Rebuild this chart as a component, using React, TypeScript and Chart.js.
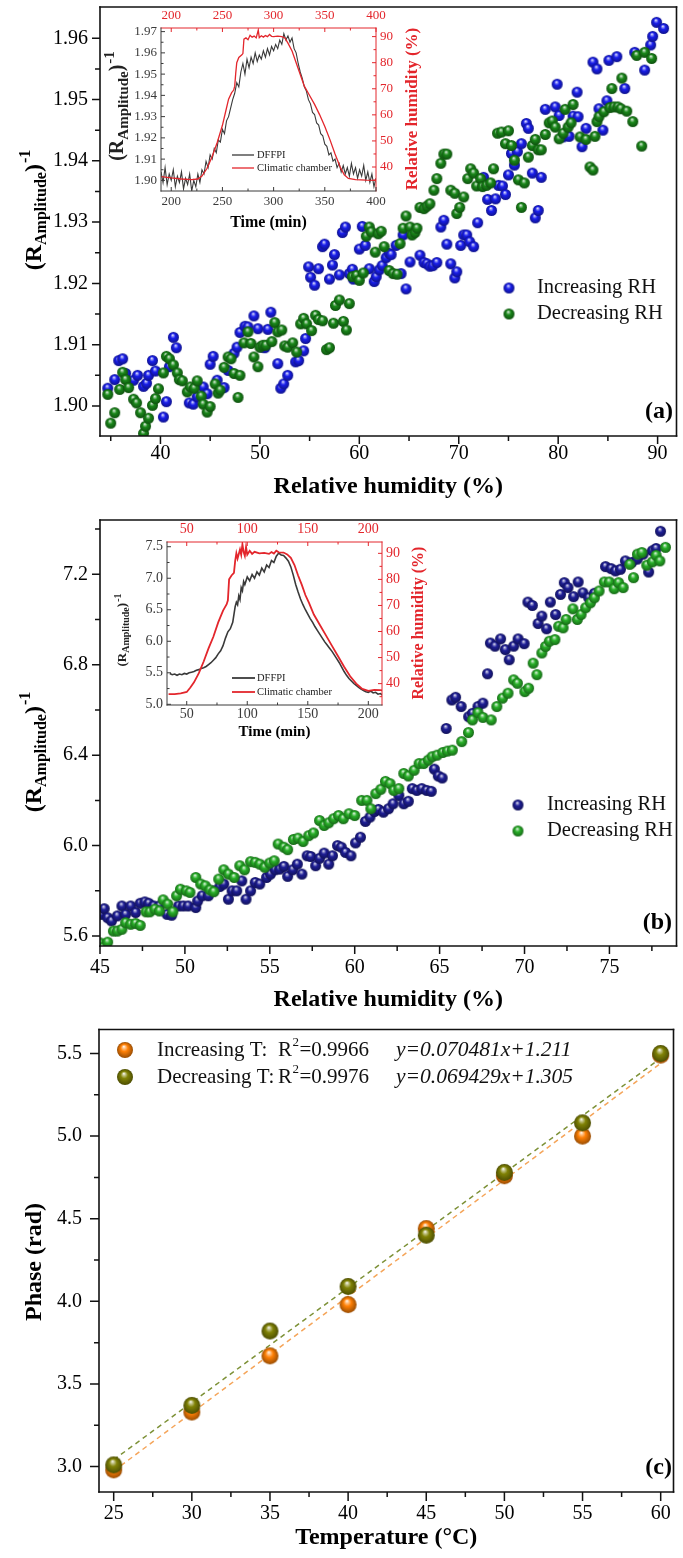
import React, { useEffect, useRef } from "react";
import { Chart, registerables } from "chart.js";

Chart.register(...registerables);

const FONT = "'Liberation Serif', 'Times New Roman', Times, serif";
const INK = "#111111";
const RED = "#e3262c";
const DARK = "#3a3a3a";

// ---------------- Panel (a) : main scatter ----------------
const A_INC_RH = [34.7, 35.4, 35.8, 36.2, 36.5, 37.3, 37.7, 38.3, 38.6, 38.8, 39.2, 39.5, 40.3, 40.6, 40.9, 41.3, 41.6, 42.9, 43.3, 43.7, 44.3, 44.7, 45.0, 45.3, 45.7, 46.4, 46.8, 47.4, 47.7, 48.0, 48.5, 48.8, 49.4, 49.8, 50.2, 50.5, 50.8, 51.1, 51.8, 52.1, 52.4, 52.8, 53.6, 53.9, 54.4, 54.6, 54.9, 55.1, 55.5, 55.9, 56.3, 56.5, 57.0, 57.3, 57.5, 58.0, 58.3, 58.6, 59.0, 59.3, 59.4, 60.0, 60.3, 60.6, 61.0, 61.5, 61.7, 62.0, 62.3, 62.7, 63.0, 63.2, 63.7, 64.2, 64.4, 64.7, 65.1, 66.1, 66.5, 66.8, 67.1, 67.4, 67.8, 68.2, 68.5, 68.8, 69.2, 69.6, 69.8, 70.2, 70.5, 70.8, 71.1, 71.5, 71.9, 72.5, 72.9, 73.3, 73.7, 74.0, 74.4, 74.7, 75.0, 75.3, 75.6, 75.9, 76.3, 76.8, 77.0, 77.4, 77.7, 78.0, 78.3, 78.7, 79.7, 80.1, 80.5, 81.1, 81.5, 82.0, 82.4, 82.8, 84.1, 84.5, 84.9, 79.9, 81.9, 83.5, 83.9, 85.1, 85.9, 86.7, 87.7, 88.7, 89.3, 89.9, 90.6, 89.5];
const A_INC_R = [1.9029, 1.9043, 1.9074, 1.9077, 1.9053, 1.9042, 1.9050, 1.9032, 1.9037, 1.9050, 1.9074, 1.9057, 1.8982, 1.9007, 1.9064, 1.9112, 1.9095, 1.9005, 1.9003, 1.9015, 1.9031, 1.9020, 1.9068, 1.9081, 1.9042, 1.9030, 1.9058, 1.9086, 1.9096, 1.9120, 1.9130, 1.9129, 1.9147, 1.9126, 1.9096, 1.9095, 1.9125, 1.9153, 1.9069, 1.9029, 1.9036, 1.9050, 1.9072, 1.9074, 1.9090, 1.9110, 1.9227, 1.9210, 1.9197, 1.9224, 1.9260, 1.9264, 1.9207, 1.9230, 1.9247, 1.9214, 1.9283, 1.9292, 1.9216, 1.9223, 1.9207, 1.9256, 1.9293, 1.9262, 1.9224, 1.9203, 1.9211, 1.9222, 1.9229, 1.9242, 1.9249, 1.9247, 1.9262, 1.9216, 1.9279, 1.9191, 1.9235, 1.9246, 1.9234, 1.9232, 1.9228, 1.9229, 1.9234, 1.9292, 1.9303, 1.9264, 1.9232, 1.9209, 1.9219, 1.9262, 1.9279, 1.9279, 1.9268, 1.9260, 1.9299, 1.9373, 1.9337, 1.9319, 1.9338, 1.9360, 1.9359, 1.9345, 1.9377, 1.9412, 1.9393, 1.9415, 1.9428, 1.9461, 1.9453, 1.9380, 1.9307, 1.9319, 1.9373, 1.9484, 1.9488, 1.9474, 1.9439, 1.9440, 1.9473, 1.9472, 1.9423, 1.9453, 1.9485, 1.9450, 1.9498, 1.9525, 1.9512, 1.9561, 1.9550, 1.9564, 1.9570, 1.9518, 1.9577, 1.9548, 1.9589, 1.9626, 1.9616, 1.9603];
const A_DEC_RH = [35.0, 35.4, 34.7, 35.9, 36.2, 36.5, 36.8, 37.3, 37.6, 38.0, 38.3, 38.5, 38.8, 39.2, 39.5, 39.8, 40.3, 40.6, 40.9, 41.3, 41.7, 41.9, 42.2, 42.7, 43.0, 43.4, 43.7, 44.1, 44.3, 44.7, 45.0, 45.5, 45.8, 46.0, 46.4, 46.8, 47.1, 47.4, 47.8, 48.0, 48.4, 48.8, 49.1, 49.4, 49.8, 50.0, 50.3, 50.6, 51.2, 51.5, 51.8, 52.2, 52.5, 52.8, 53.3, 53.7, 54.1, 54.4, 54.7, 55.2, 55.6, 55.9, 56.3, 56.7, 57.0, 57.4, 57.6, 58.0, 58.4, 58.7, 59.0, 59.3, 59.7, 60.0, 60.4, 60.7, 61.0, 61.2, 61.6, 61.9, 62.2, 62.5, 63.0, 63.4, 63.8, 64.1, 64.4, 64.7, 65.1, 65.3, 65.6, 65.8, 66.1, 66.5, 66.8, 67.1, 67.5, 67.8, 68.2, 68.5, 68.8, 69.2, 69.6, 69.8, 70.1, 70.5, 70.9, 71.2, 71.5, 71.8, 72.2, 72.4, 72.8, 73.2, 73.5, 73.9, 74.3, 74.7, 75.0, 75.3, 75.6, 76.0, 76.3, 76.6, 77.0, 77.4, 77.7, 78.0, 78.3, 78.7, 79.1, 79.4, 79.7, 80.1, 80.5, 81.0, 81.3, 80.7, 81.5, 82.2, 82.8, 83.2, 83.5, 83.7, 83.9, 84.1, 84.6, 85.2, 85.6, 86.0, 86.3, 86.9, 87.5, 88.4, 87.9, 88.7, 89.4, 86.4, 85.4];
const A_DEC_R = [1.8972, 1.8989, 1.9019, 1.9027, 1.9055, 1.9043, 1.9030, 1.9011, 1.9005, 1.8989, 1.8955, 1.8967, 1.8980, 1.9001, 1.9012, 1.9028, 1.9054, 1.9081, 1.9077, 1.9067, 1.9054, 1.9043, 1.9041, 1.9023, 1.9031, 1.9029, 1.9041, 1.9016, 1.9003, 1.8990, 1.8999, 1.9036, 1.9021, 1.9026, 1.9063, 1.9080, 1.9077, 1.9053, 1.9014, 1.9050, 1.9103, 1.9121, 1.9102, 1.9080, 1.9064, 1.9096, 1.9099, 1.9099, 1.9105, 1.9136, 1.9121, 1.9124, 1.9098, 1.9096, 1.9103, 1.9088, 1.9134, 1.9143, 1.9134, 1.9123, 1.9148, 1.9141, 1.9139, 1.9092, 1.9095, 1.9135, 1.9164, 1.9173, 1.9138, 1.9124, 1.9167, 1.9211, 1.9213, 1.9205, 1.9217, 1.9277, 1.9292, 1.9284, 1.9251, 1.9281, 1.9285, 1.9260, 1.9221, 1.9216, 1.9215, 1.9265, 1.9290, 1.9310, 1.9292, 1.9279, 1.9283, 1.9290, 1.9324, 1.9322, 1.9326, 1.9330, 1.9352, 1.9371, 1.9396, 1.9411, 1.9411, 1.9352, 1.9347, 1.9314, 1.9324, 1.9341, 1.9371, 1.9387, 1.9380, 1.9359, 1.9371, 1.9358, 1.9360, 1.9364, 1.9387, 1.9445, 1.9447, 1.9428, 1.9449, 1.9425, 1.9401, 1.9369, 1.9324, 1.9364, 1.9406, 1.9425, 1.9435, 1.9418, 1.9418, 1.9443, 1.9462, 1.9465, 1.9455, 1.9436, 1.9445, 1.9455, 1.9462, 1.9484, 1.9492, 1.9439, 1.9435, 1.9390, 1.9385, 1.9440, 1.9464, 1.9472, 1.9480, 1.9487, 1.9488, 1.9488, 1.9485, 1.9481, 1.9464, 1.9424, 1.9572, 1.9577, 1.9567, 1.9535, 1.9518];
const A_X_TICKS = [40, 50, 60, 70, 80, 90];
const A_X_MINOR = [35, 45, 55, 65, 75, 85];
const A_Y_TICKS = [1.9, 1.91, 1.92, 1.93, 1.94, 1.95, 1.96];
const A_Y_MINOR = [1.905, 1.915, 1.925, 1.935, 1.945, 1.955];
const RH_LEGEND = ["Increasing RH", "Decreasing RH"];

// ---------------- Inset (a) ----------------
const IA_TIME = [190, 192, 194, 196, 198, 200, 202, 204, 206, 208, 210, 212, 214, 216, 218, 220, 222, 224, 226, 228, 230, 232, 234, 236, 238, 240, 242, 244, 246, 248, 250, 252, 254, 256, 258, 260, 262, 264, 266, 268, 270, 272, 274, 276, 278, 280, 282, 284, 286, 288, 290, 292, 294, 296, 298, 300, 302, 304, 306, 308, 310, 312, 314, 316, 318, 320, 322, 324, 326, 328, 330, 332, 334, 336, 338, 340, 342, 344, 346, 348, 350, 352, 354, 356, 358, 360, 362, 364, 366, 368, 370, 372, 374, 376, 378, 380, 382, 384, 386, 388, 390, 392, 394, 396, 398, 400];
const IA_DFFPI = [1.904, 1.899, 1.906, 1.898, 1.903, 1.900, 1.905, 1.897, 1.902, 1.899, 1.904, 1.896, 1.901, 1.898, 1.903, 1.895, 1.900, 1.897, 1.903, 1.899, 1.905, 1.903, 1.909, 1.906, 1.912, 1.910, 1.915, 1.913, 1.919, 1.918, 1.924, 1.922, 1.928, 1.930, 1.934, 1.938, 1.941, 1.946, 1.944, 1.951, 1.955, 1.950, 1.957, 1.953, 1.958, 1.955, 1.960, 1.956, 1.959, 1.957, 1.961, 1.958, 1.962, 1.959, 1.963, 1.961, 1.964, 1.962, 1.966, 1.964, 1.969, 1.966, 1.968, 1.965, 1.967, 1.962, 1.960, 1.955, 1.951, 1.948, 1.944, 1.942, 1.938, 1.936, 1.932, 1.931, 1.927, 1.926, 1.922, 1.921, 1.917, 1.916, 1.912, 1.913, 1.909, 1.910, 1.906, 1.908, 1.904, 1.907, 1.903, 1.906, 1.902, 1.908, 1.903, 1.906, 1.901, 1.905, 1.902, 1.907, 1.900, 1.904, 1.899, 1.903, 1.897, 1.901];
const IA_CH_T = [190, 200, 210, 220, 226, 230, 235, 240, 245, 250, 253, 256, 259, 261, 262, 263, 264, 266, 269, 270, 271, 273, 275, 277, 279, 281, 283, 285, 286, 288, 290, 292, 294, 296, 298, 300, 304, 308, 311, 314, 318, 322, 326, 330, 335, 340, 345, 350, 355, 360, 365, 369, 373, 380, 390, 400];
const IA_CH_RH = [36.3, 35.8, 35.4, 35.2, 35.4, 36.5, 39.5, 44, 49.5, 56, 61, 66, 68.5, 69.5, 71, 76, 80, 82, 83, 83.5, 89, 89.5, 88.8, 90.5, 89.8, 90.2, 89.5, 92.5, 89.6, 90.3, 89.8, 90.4, 90.0, 90.8, 90.1, 90.0, 90.2, 90.0, 89.5, 87.5, 84.5, 80, 75.5, 71, 67.5, 64, 60, 55.5, 50.5, 45, 40, 37, 35.6, 35.2, 35.0, 34.9];
const IA_X_TICKS = [200, 250, 300, 350, 400];
const IA_X_MINOR = [225, 275, 325, 375];
const IA_Y_TICKS = [1.9, 1.91, 1.92, 1.93, 1.94, 1.95, 1.96, 1.97];
const IA_Y_MINOR = [1.905, 1.915, 1.925, 1.935, 1.945, 1.955, 1.965];
const IA_Y2_TICKS = [40, 50, 60, 70, 80, 90];
const IA_Y2_MINOR = [35, 45, 55, 65, 75, 85];
const INSET_LEGEND = ["DFFPI", "Climatic chamber"];

// ---------------- Panel (b) : main scatter ----------------
const B_INC_RH = [45.07, 45.25, 45.45, 45.68, 46.02, 46.29, 46.51, 46.81, 47.10, 47.37, 47.64, 47.87, 48.16, 48.50, 48.95, 49.22, 49.63, 49.90, 50.19, 50.64, 50.75, 51.02, 51.38, 51.70, 52.06, 52.29, 52.56, 52.78, 53.05, 53.35, 53.60, 53.87, 54.14, 54.41, 54.81, 55.04, 55.31, 55.58, 55.83, 56.05, 56.35, 56.62, 56.89, 57.20, 57.41, 57.70, 57.93, 58.20, 58.47, 58.69, 58.99, 59.21, 59.46, 59.78, 60.05, 60.34, 60.63, 60.90, 61.17, 61.40, 61.69, 61.99, 62.26, 62.60, 62.89, 63.16, 63.39, 63.66, 63.95, 64.24, 64.51, 64.69, 64.92, 65.15, 65.39, 65.72, 65.94, 66.27, 66.71, 66.93, 67.26, 67.55, 67.82, 67.99, 68.26, 68.59, 68.87, 69.10, 69.36, 69.62, 69.98, 70.20, 70.46, 70.80, 71.02, 71.30, 71.52, 71.83, 72.12, 72.34, 72.56, 72.89, 73.16, 73.44, 73.78, 74.11, 74.77, 75.10, 75.36, 75.65, 75.94, 76.31, 76.64, 76.98, 77.31, 77.53, 77.75, 78.01];
const B_INC_V = [5.696, 5.721, 5.681, 5.667, 5.689, 5.733, 5.696, 5.733, 5.704, 5.745, 5.751, 5.745, 5.733, 5.733, 5.696, 5.692, 5.733, 5.733, 5.733, 5.726, 5.755, 5.778, 5.778, 5.800, 5.819, 5.830, 5.763, 5.800, 5.800, 5.844, 5.763, 5.800, 5.837, 5.830, 5.859, 5.874, 5.893, 5.896, 5.908, 5.864, 5.893, 5.918, 5.874, 5.955, 5.952, 5.911, 5.944, 5.967, 5.918, 5.955, 6.000, 5.993, 5.970, 5.955, 6.012, 6.037, 6.107, 6.126, 6.151, 6.160, 6.148, 6.163, 6.185, 6.222, 6.185, 6.196, 6.252, 6.244, 6.252, 6.244, 6.240, 6.338, 6.308, 6.299, 6.518, 6.644, 6.656, 6.615, 6.570, 6.585, 6.615, 6.630, 6.760, 6.896, 6.882, 6.914, 6.867, 6.822, 6.882, 6.914, 6.893, 7.077, 7.062, 6.982, 7.015, 6.959, 7.077, 7.022, 7.111, 7.163, 7.141, 7.101, 7.166, 7.118, 7.096, 7.116, 7.234, 7.225, 7.215, 7.222, 7.259, 7.252, 7.267, 7.289, 7.210, 7.304, 7.314, 7.390];
const B_DEC_RH = [45.0, 45.16, 45.45, 45.79, 46.02, 46.29, 46.51, 46.81, 47.10, 47.37, 47.71, 47.93, 48.23, 48.50, 48.72, 48.99, 49.29, 49.51, 49.74, 50.08, 50.30, 50.64, 50.93, 51.20, 51.47, 51.70, 51.99, 52.29, 52.56, 52.90, 53.23, 53.51, 53.87, 54.14, 54.41, 54.70, 54.99, 55.26, 55.49, 55.83, 56.05, 56.39, 56.66, 56.96, 57.29, 57.57, 57.93, 58.20, 58.47, 58.76, 59.05, 59.33, 59.66, 60.00, 60.41, 60.72, 60.95, 61.24, 61.54, 61.81, 62.08, 62.30, 62.60, 62.89, 63.16, 63.50, 63.79, 64.06, 64.33, 64.56, 64.85, 65.19, 65.46, 65.75, 66.3, 66.7, 66.93, 67.26, 67.55, 68.04, 68.37, 68.70, 69.03, 69.36, 69.58, 70.02, 70.24, 70.51, 70.73, 71.02, 71.24, 71.46, 71.79, 72.01, 72.27, 72.45, 72.85, 73.11, 73.33, 73.60, 73.88, 74.11, 74.39, 74.70, 74.99, 75.28, 75.54, 75.81, 76.20, 76.42, 76.65, 76.91, 77.20, 77.53, 77.75, 77.97, 78.30];
const B_DEC_V = [5.570, 5.548, 5.573, 5.622, 5.622, 5.630, 5.659, 5.652, 5.656, 5.647, 5.707, 5.707, 5.719, 5.711, 5.760, 5.741, 5.707, 5.778, 5.807, 5.800, 5.793, 5.859, 5.830, 5.822, 5.804, 5.796, 5.852, 5.893, 5.874, 5.859, 5.911, 5.893, 5.929, 5.926, 5.918, 5.904, 5.923, 5.933, 6.007, 5.993, 5.982, 6.027, 6.033, 6.018, 6.044, 6.056, 6.111, 6.089, 6.101, 6.119, 6.133, 6.119, 6.141, 6.133, 6.200, 6.200, 6.163, 6.230, 6.249, 6.284, 6.274, 6.244, 6.252, 6.319, 6.308, 6.333, 6.363, 6.363, 6.378, 6.393, 6.400, 6.412, 6.418, 6.422, 6.46, 6.50, 6.556, 6.588, 6.567, 6.556, 6.615, 6.652, 6.674, 6.733, 6.718, 6.681, 6.696, 6.807, 6.756, 6.852, 6.881, 6.904, 6.911, 6.970, 6.963, 7.000, 7.047, 7.000, 7.022, 7.052, 7.074, 7.096, 7.126, 7.166, 7.166, 7.136, 7.163, 7.141, 7.244, 7.185, 7.289, 7.296, 7.240, 7.255, 7.284, 7.259, 7.319];
const B_X_TICKS = [45, 50, 55, 60, 65, 70, 75];
const B_X_MINOR = [47.5, 52.5, 57.5, 62.5, 67.5, 72.5, 77.5];
const B_Y_TICKS = [5.6, 6.0, 6.4, 6.8, 7.2];
const B_Y_MINOR = [5.8, 6.2, 6.6, 7.0, 7.4];

// ---------------- Inset (b) ----------------
const IB_TIME = [36, 38, 40, 42, 44, 46, 48, 50, 52, 54, 56, 58, 60, 62, 64, 66, 68, 70, 72, 74, 76, 78, 80, 82, 84, 86, 88, 90, 91, 92, 93, 94, 95, 96, 97, 98, 100, 102, 104, 106, 108, 110, 112, 114, 116, 118, 120, 122, 124, 126, 128, 130, 132, 134, 136, 138, 140, 142, 144, 146, 148, 150, 152, 154, 156, 158, 160, 162, 164, 166, 168, 170, 172, 174, 176, 178, 180, 182, 184, 186, 188, 190, 192, 194, 196, 198, 200, 202, 204, 206, 208, 210, 212];
const IB_DFFPI = [5.49, 5.47, 5.48, 5.46, 5.48, 5.47, 5.49, 5.48, 5.50, 5.51, 5.52, 5.54, 5.55, 5.57, 5.58, 5.60, 5.63, 5.66, 5.70, 5.74, 5.80, 5.85, 5.93, 6.05, 6.15, 6.20, 6.30, 6.55, 6.62, 6.58, 6.72, 6.66, 6.85, 6.80, 6.95, 6.90, 7.02, 6.96, 7.06, 7.00, 7.10, 7.05, 7.16, 7.10, 7.21, 7.17, 7.28, 7.25, 7.35, 7.40, 7.37, 7.36, 7.32, 7.27, 7.18, 7.05, 6.90, 6.78, 6.67, 6.58, 6.50, 6.43, 6.36, 6.30, 6.23, 6.17, 6.11, 6.05, 5.99, 5.94, 5.89, 5.84, 5.78, 5.72, 5.66, 5.59, 5.52, 5.46, 5.41, 5.37, 5.33, 5.30, 5.27, 5.24, 5.22, 5.20, 5.19, 5.21, 5.18, 5.19, 5.16, 5.17, 5.14];
const IB_CH_T = [35, 40, 45, 50, 53, 56, 60, 64, 68, 72, 76, 80, 83, 84, 85, 87, 89, 90, 91, 92, 94, 95, 96, 97, 98, 99, 100, 102, 104, 106, 110, 114, 118, 120, 122, 124, 126, 130, 133, 136, 139, 142, 145, 148, 151, 155, 160, 165, 170, 175, 180, 185, 190, 195, 200, 205, 210, 212];
const IB_CH_RH = [36.0, 36.0, 36.3, 36.8, 38.5, 40.5, 44, 48.5, 53.5, 58, 63.5, 68, 70.5, 72, 80, 81.5, 82.5, 87, 90, 88, 91.5, 89.5, 93.5, 90.5, 89, 92.5, 89.5, 91, 89.8, 90.6, 90, 90.2, 89.8, 90.5, 89.9, 91, 90.4, 90.3, 89.6, 88.3, 85.5, 81.5, 78, 74, 71, 66.5, 62.5, 58.5, 54.5, 50.5, 46.5, 42.8, 40, 38, 37.2, 37.6, 37.5, 37.4];
const IB_X_TICKS = [50, 100, 150, 200];
const IB_X_MINOR = [75, 125, 175];
const IB_Y_TICKS = [5.0, 5.5, 6.0, 6.5, 7.0, 7.5];
const IB_Y_MINOR = [5.25, 5.75, 6.25, 6.75, 7.25];
const IB_Y2_TICKS = [40, 50, 60, 70, 80, 90];
const IB_Y2_MINOR = [35, 45, 55, 65, 75, 85];

// ---------------- Panel (c) ----------------
const C_TEMP = [25, 30, 35, 40, 45, 50, 55, 60];
const C_INC = [2.98, 3.33, 3.67, 3.98, 4.44, 4.76, 5.0, 5.49];
const C_DEC = [3.01, 3.37, 3.82, 4.09, 4.4, 4.78, 5.08, 5.5];
const C_FIT_X = [25, 60];
const C_FIT_INC = [2.973, 5.44];
const C_FIT_DEC = [3.041, 5.471];
const C_X_TICKS = [25, 30, 35, 40, 45, 50, 55, 60];
const C_X_MINOR = [27.5, 32.5, 37.5, 42.5, 47.5, 52.5, 57.5];
const C_Y_TICKS = [3.0, 3.5, 4.0, 4.5, 5.0, 5.5];
const C_Y_MINOR = [3.25, 3.75, 4.25, 4.75, 5.25];
const C_NAMES = ["Increasing T:", "Decreasing T:"];
const C_R2 = ["0.9966", "0.9976"];
const C_EQ = ["y=0.070481x+1.211", "y=0.069429x+1.305"];

// ---------------- helpers ----------------
function zip(xs: number[], ys: number[]) {
  const n = Math.min(xs.length, ys.length);
  const out: { x: number; y: number }[] = [];
  for (let i = 0; i < n; i++) out.push({ x: xs[i], y: ys[i] });
  return out;
}

function sphere(r: number, rgb: number[]) {
  const size = Math.ceil(2 * r + 2);
  const cv = document.createElement("canvas");
  cv.width = size;
  cv.height = size;
  const g = cv.getContext("2d") as CanvasRenderingContext2D;
  const c = size / 2;
  const [R, G, B] = rgb;
  const mix = (t: number, to: number) =>
    `rgb(${Math.round(R + (to - R) * t)},${Math.round(G + (to - G) * t)},${Math.round(B + (to - B) * t)})`;
  const grad = g.createRadialGradient(c - r * 0.15, c - r * 0.45, 0, c, c, r);
  grad.addColorStop(0, "rgb(255,255,255)");
  grad.addColorStop(0.2, mix(0.5, 255));
  grad.addColorStop(0.45, `rgb(${R},${G},${B})`);
  grad.addColorStop(1, mix(0.4, 0));
  g.fillStyle = grad;
  g.beginPath();
  g.arc(c, c, r, 0, Math.PI * 2);
  g.fill();
  return cv;
}

function axis(p: any) {
  const horizontal = p.position === "top" || p.position === "bottom";
  return {
    type: "linear",
    position: p.position,
    min: p.min,
    max: p.max,
    grid: { display: false, drawTicks: false },
    border: { display: false },
    ticks: {
      autoSkip: false,
      maxRotation: 0,
      minRotation: 0,
      padding: p.pad,
      color: p.color,
      font: { family: FONT, size: p.size },
      callback: (v: any) => p.fmt(Number(v)),
    },
    afterBuildTicks: (s: any) => {
      s.ticks = p.ticks.map((v: number) => ({ value: v }));
    },
    afterFit: (s: any) => {
      if (horizontal) s.height = p.fit;
      else s.width = p.fit;
      s.paddingLeft = 0;
      s.paddingRight = 0;
      s.paddingTop = 0;
      s.paddingBottom = 0;
    },
    title: p.title
      ? {
          display: true,
          text: p.title,
          color: p.titleColor || "#000",
          font: { family: FONT, size: p.titleSize, weight: "bold" },
          padding: { top: 0, bottom: p.titlePad },
        }
      : { display: false },
  };
}

function baseOptions(padding: any) {
  return {
    responsive: false,
    maintainAspectRatio: false,
    animation: false,
    devicePixelRatio: 1,
    events: [],
    layout: { padding },
    plugins: { legend: { display: false }, tooltip: { enabled: false } },
  };
}

function tickMarks(chart: any, id: string, values: number[], len: number, outward: boolean, color: string, lw: number) {
  const s = chart.scales[id];
  const a = chart.chartArea;
  const ctx = chart.ctx;
  const d = outward ? len : -len;
  ctx.save();
  ctx.strokeStyle = color;
  ctx.lineWidth = lw;
  ctx.beginPath();
  for (const v of values) {
    const p = s.getPixelForValue(v);
    if (s.position === "left") {
      ctx.moveTo(a.left, p);
      ctx.lineTo(a.left - d, p);
    } else if (s.position === "right") {
      ctx.moveTo(a.right, p);
      ctx.lineTo(a.right + d, p);
    } else if (s.position === "bottom") {
      ctx.moveTo(p, a.bottom);
      ctx.lineTo(p, a.bottom + d);
    } else {
      ctx.moveTo(p, a.top);
      ctx.lineTo(p, a.top - d);
    }
  }
  ctx.stroke();
  ctx.restore();
}

function frame(chart: any, lw: number, cl: string, cr: string, ct: string, cb: string) {
  const ctx = chart.ctx;
  const a = chart.chartArea;
  ctx.save();
  ctx.lineWidth = lw;
  ctx.lineCap = "square";
  const seg = (x1: number, y1: number, x2: number, y2: number, c: string) => {
    ctx.strokeStyle = c;
    ctx.beginPath();
    ctx.moveTo(x1, y1);
    ctx.lineTo(x2, y2);
    ctx.stroke();
  };
  seg(a.left, a.top, a.right, a.top, ct);
  seg(a.right, a.top, a.right, a.bottom, cr);
  seg(a.left, a.bottom, a.right, a.bottom, cb);
  seg(a.left, a.top, a.left, a.bottom, cl);
  ctx.restore();
}

function rTitle(ctx: any, x: number, y: number, big: number, small: number, color: string) {
  ctx.save();
  ctx.translate(x, y);
  ctx.rotate(-Math.PI / 2);
  ctx.fillStyle = color;
  ctx.textBaseline = "middle";
  ctx.textAlign = "left";
  const fb = `bold ${big}px ${FONT}`;
  const fs = `bold ${small}px ${FONT}`;
  ctx.font = fb;
  const w1 = ctx.measureText("(R").width;
  const w3 = ctx.measureText(")").width;
  ctx.font = fs;
  const w2 = ctx.measureText("Amplitude").width;
  const w4 = ctx.measureText("-1").width;
  let cx = -(w1 + w2 + w3 + w4 + 1) / 2;
  ctx.font = fb;
  ctx.fillText("(R", cx, 0);
  cx += w1;
  ctx.font = fs;
  ctx.fillText("Amplitude", cx, big * 0.3);
  cx += w2;
  ctx.font = fb;
  ctx.fillText(")", cx, 0);
  cx += w3 + 1;
  ctx.font = fs;
  ctx.fillText("-1", cx, -big * 0.38);
  ctx.restore();
}

function vText(ctx: any, s: string, x: number, y: number, font: string, color: string) {
  ctx.save();
  ctx.translate(x, y);
  ctx.rotate(-Math.PI / 2);
  ctx.font = font;
  ctx.fillStyle = color;
  ctx.textAlign = "center";
  ctx.textBaseline = "middle";
  ctx.fillText(s, 0, 0);
  ctx.restore();
}

function label(ctx: any, s: string, x: number, y: number, font: string, color: string, align = "left") {
  ctx.save();
  ctx.font = font;
  ctx.fillStyle = color;
  ctx.textAlign = align;
  ctx.textBaseline = "middle";
  ctx.fillText(s, x, y);
  ctx.restore();
}

function img(ctx: any, im: HTMLCanvasElement, x: number, y: number) {
  ctx.drawImage(im, x - im.width / 2, y - im.height / 2);
}

function lineLegend(ctx: any, x1: number, x2: number, y: number, color: string, lw: number, tx: number, s: string, size: number) {
  ctx.save();
  ctx.strokeStyle = color;
  ctx.lineWidth = lw;
  ctx.beginPath();
  ctx.moveTo(x1, y);
  ctx.lineTo(x2, y);
  ctx.stroke();
  ctx.restore();
  label(ctx, s, tx, y, `${size}px ${FONT}`, "#222", "left");
}

// ---------------- chart builders ----------------
function buildA() {
  const blue = sphere(5.5, [25, 30, 235]);
  const green = sphere(5.5, [25, 135, 25]);
  return {
    type: "scatter",
    data: {
      datasets: [
        { label: RH_LEGEND[1], data: zip(A_DEC_RH, A_DEC_R), pointStyle: green, pointRadius: 5.5, order: 0 },
        { label: RH_LEGEND[0], data: zip(A_INC_RH, A_INC_R), pointStyle: blue, pointRadius: 5.5, order: 1 },
      ],
    },
    options: {
      ...baseOptions({ left: 0, right: 3, top: 7, bottom: 0 }),
      scales: {
        x: axis({ position: "bottom", min: 33.92, max: 91.9, ticks: A_X_TICKS, fmt: (v: number) => String(v), size: 20, color: "#000", pad: 6, fit: 69, title: "Relative humidity (%)", titleSize: 24, titlePad: 4 }),
        y: axis({ position: "left", min: 1.8951, max: 1.9651, ticks: A_Y_TICKS, fmt: (v: number) => v.toFixed(2), size: 20, color: "#000", pad: 12, fit: 100 }),
      },
    },
    plugins: [
      {
        id: "decoA",
        afterDatasetsDraw(chart: any) {
          const ctx = chart.ctx;
          frame(chart, 1.6, INK, INK, INK, INK);
          tickMarks(chart, "x", A_X_TICKS, 8, true, INK, 1.5);
          tickMarks(chart, "x", A_X_MINOR, 5, true, INK, 1.5);
          tickMarks(chart, "y", A_Y_TICKS, 8, true, INK, 1.5);
          tickMarks(chart, "y", A_Y_MINOR, 5, true, INK, 1.5);
          img(ctx, blue, 509, 288);
          img(ctx, green, 509, 314);
          label(ctx, RH_LEGEND[0], 537, 288, `20.5px ${FONT}`, "#111");
          label(ctx, RH_LEGEND[1], 537, 314, `20.5px ${FONT}`, "#111");
          label(ctx, "(a)", 673, 412, `bold 24px ${FONT}`, "#000", "right");
          rTitle(ctx, 35, 210, 24, 16, "#000");
        },
      },
    ],
  };
}

function buildInsetA() {
  return {
    type: "scatter",
    data: {
      datasets: [
        { label: INSET_LEGEND[1], data: zip(IA_CH_T, IA_CH_RH), xAxisID: "x2", yAxisID: "y2", showLine: true, pointRadius: 0, borderColor: RED, borderWidth: 1.3, order: 0 },
        { label: INSET_LEGEND[0], data: zip(IA_TIME, IA_DFFPI), xAxisID: "x", yAxisID: "y", showLine: true, pointRadius: 0, borderColor: DARK, borderWidth: 1.1, order: 1 },
      ],
    },
    options: {
      ...baseOptions({ left: 0, right: 0, top: 0, bottom: 0 }),
      scales: {
        x: axis({ position: "bottom", min: 190, max: 400, ticks: IA_X_TICKS, fmt: (v: number) => String(v), size: 13, color: DARK, pad: 3, fit: 49, title: "Time (min)", titleSize: 16, titlePad: 8 }),
        x2: axis({ position: "top", min: 190, max: 400, ticks: IA_X_TICKS, fmt: (v: number) => String(v), size: 13, color: RED, pad: 5, fit: 28 }),
        y: axis({ position: "left", min: 1.895, max: 1.9717, ticks: IA_Y_TICKS, fmt: (v: number) => v.toFixed(2), size: 13, color: DARK, pad: 4, fit: 66 }),
        y2: axis({ position: "right", min: 30.8, max: 93.3, ticks: IA_Y2_TICKS, fmt: (v: number) => String(v), size: 13, color: RED, pad: 4, fit: 59 }),
      },
    },
    plugins: [
      {
        id: "decoIA",
        afterDatasetsDraw(chart: any) {
          const ctx = chart.ctx;
          frame(chart, 1, DARK, RED, RED, DARK);
          tickMarks(chart, "x", IA_X_TICKS, 4, false, DARK, 1);
          tickMarks(chart, "x", IA_X_MINOR, 2.5, false, DARK, 1);
          tickMarks(chart, "x2", IA_X_TICKS, 4, false, RED, 1);
          tickMarks(chart, "x2", IA_X_MINOR, 2.5, false, RED, 1);
          tickMarks(chart, "y", IA_Y_TICKS, 4, false, DARK, 1);
          tickMarks(chart, "y", IA_Y_MINOR, 2.5, false, DARK, 1);
          tickMarks(chart, "y2", IA_Y2_TICKS, 4, false, RED, 1);
          tickMarks(chart, "y2", IA_Y2_MINOR, 2.5, false, RED, 1);
          lineLegend(ctx, 137, 159, 155, DARK, 1.3, 162, INSET_LEGEND[0], 10.5);
          lineLegend(ctx, 137, 159, 168, RED, 1.3, 162, INSET_LEGEND[1], 10.5);
          rTitle(ctx, 23, 106, 20, 15, "#222");
          vText(ctx, "Relative humidity (%)", 318, 109, `bold 17px ${FONT}`, RED);
        },
      },
    ],
  };
}

function buildB() {
  const blue = sphere(5.5, [30, 30, 150]);
  const green = sphere(5.5, [40, 175, 40]);
  return {
    type: "scatter",
    data: {
      datasets: [
        { label: RH_LEGEND[1], data: zip(B_DEC_RH, B_DEC_V), pointStyle: green, pointRadius: 5.5, order: 0 },
        { label: RH_LEGEND[0], data: zip(B_INC_RH, B_INC_V), pointStyle: blue, pointRadius: 5.5, order: 1 },
      ],
    },
    options: {
      ...baseOptions({ left: 0, right: 3, top: 10, bottom: 0 }),
      scales: {
        x: axis({ position: "bottom", min: 45, max: 78.95, ticks: B_X_TICKS, fmt: (v: number) => String(v), size: 20, color: "#000", pad: 10, fit: 74, title: "Relative humidity (%)", titleSize: 24, titlePad: 5.5 }),
        y: axis({ position: "left", min: 5.556, max: 7.44, ticks: B_Y_TICKS, fmt: (v: number) => v.toFixed(1), size: 20, color: "#000", pad: 12, fit: 100 }),
      },
    },
    plugins: [
      {
        id: "decoB",
        afterDatasetsDraw(chart: any) {
          const ctx = chart.ctx;
          frame(chart, 1.6, INK, INK, INK, INK);
          tickMarks(chart, "x", B_X_TICKS, 8, true, INK, 1.5);
          tickMarks(chart, "x", B_X_MINOR, 5, true, INK, 1.5);
          tickMarks(chart, "y", B_Y_TICKS, 8, true, INK, 1.5);
          tickMarks(chart, "y", B_Y_MINOR, 5, true, INK, 1.5);
          img(ctx, blue, 518, 295);
          img(ctx, green, 518, 321);
          label(ctx, RH_LEGEND[0], 547, 295, `20.5px ${FONT}`, "#111");
          label(ctx, RH_LEGEND[1], 547, 321, `20.5px ${FONT}`, "#111");
          label(ctx, "(b)", 672, 413, `bold 24px ${FONT}`, "#000", "right");
          rTitle(ctx, 35, 242, 24, 16, "#000");
        },
      },
    ],
  };
}

function buildInsetB() {
  return {
    type: "scatter",
    data: {
      datasets: [
        { label: INSET_LEGEND[1], data: zip(IB_CH_T, IB_CH_RH), xAxisID: "x2", yAxisID: "y2", showLine: true, pointRadius: 0, borderColor: RED, borderWidth: 1.8, order: 0 },
        { label: INSET_LEGEND[0], data: zip(IB_TIME, IB_DFFPI), xAxisID: "x", yAxisID: "y", showLine: true, pointRadius: 0, borderColor: DARK, borderWidth: 1.6, order: 1 },
      ],
    },
    options: {
      ...baseOptions({ left: 0, right: 0, top: 0, bottom: 0 }),
      scales: {
        x: axis({ position: "bottom", min: 33.7, max: 211.3, ticks: IB_X_TICKS, fmt: (v: number) => String(v), size: 14, color: DARK, pad: 1, fit: 40, title: "Time (min)", titleSize: 15, titlePad: 4 }),
        x2: axis({ position: "top", min: 33.7, max: 211.3, ticks: IB_X_TICKS, fmt: (v: number) => String(v), size: 14, color: RED, pad: 4.5, fit: 27 }),
        y: axis({ position: "left", min: 4.989, max: 7.575, ticks: IB_Y_TICKS, fmt: (v: number) => v.toFixed(1), size: 14, color: DARK, pad: 4, fit: 72 }),
        y2: axis({ position: "right", min: 31.8, max: 94.35, ticks: IB_Y2_TICKS, fmt: (v: number) => String(v), size: 14, color: RED, pad: 4, fit: 58 }),
      },
    },
    plugins: [
      {
        id: "decoIB",
        afterDatasetsDraw(chart: any) {
          const ctx = chart.ctx;
          frame(chart, 1, DARK, RED, RED, DARK);
          tickMarks(chart, "x", IB_X_TICKS, 4, false, DARK, 1);
          tickMarks(chart, "x", IB_X_MINOR, 2.5, false, DARK, 1);
          tickMarks(chart, "x2", IB_X_TICKS, 4, false, RED, 1);
          tickMarks(chart, "x2", IB_X_MINOR, 2.5, false, RED, 1);
          tickMarks(chart, "y", IB_Y_TICKS, 4, false, DARK, 1);
          tickMarks(chart, "y", IB_Y_MINOR, 2.5, false, DARK, 1);
          tickMarks(chart, "y2", IB_Y2_TICKS, 4, false, RED, 1);
          tickMarks(chart, "y2", IB_Y2_MINOR, 2.5, false, RED, 1);
          lineLegend(ctx, 137, 160, 163, DARK, 1.8, 162, INSET_LEGEND[0], 10.5);
          lineLegend(ctx, 137, 160, 177, RED, 1.8, 162, INSET_LEGEND[1], 10.5);
          rTitle(ctx, 28, 115, 13, 10, "#222");
          vText(ctx, "Relative humidity (%)", 324, 108, `bold 16px ${FONT}`, RED);
        },
      },
    ],
  };
}

function buildC() {
  const orange = sphere(8.5, [255, 128, 5]);
  const olive = sphere(8.5, [128, 130, 5]);
  const orangeL = sphere(8, [255, 128, 5]);
  const oliveL = sphere(8, [128, 130, 5]);
  return {
    type: "scatter",
    data: {
      datasets: [
        { label: "Decreasing T", data: zip(C_TEMP, C_DEC), pointStyle: olive, pointRadius: 8.5, order: 0 },
        { label: "Increasing T", data: zip(C_TEMP, C_INC), pointStyle: orange, pointRadius: 8.5, order: 1 },
        { label: "fit dec", data: zip(C_FIT_X, C_FIT_DEC), showLine: true, pointRadius: 0, borderColor: "rgb(125,145,55)", borderWidth: 1.5, borderDash: [5, 4], order: 2 },
        { label: "fit inc", data: zip(C_FIT_X, C_FIT_INC), showLine: true, pointRadius: 0, borderColor: "rgb(245,165,90)", borderWidth: 1.5, borderDash: [5, 4], order: 3 },
      ],
    },
    options: {
      ...baseOptions({ left: 0, right: 3, top: 9, bottom: 0 }),
      scales: {
        x: axis({ position: "bottom", min: 24.06, max: 60.82, ticks: C_X_TICKS, fmt: (v: number) => String(v), size: 20, color: "#000", pad: 10, fit: 66, title: "Temperature (\u00B0C)", titleSize: 24, titlePad: 5.5 }),
        y: axis({ position: "left", min: 2.846, max: 5.645, ticks: C_Y_TICKS, fmt: (v: number) => v.toFixed(1), size: 20, color: "#000", pad: 17, fit: 99 }),
      },
    },
    plugins: [
      {
        id: "decoC",
        afterDatasetsDraw(chart: any) {
          const ctx = chart.ctx;
          frame(chart, 1.6, INK, INK, INK, INK);
          tickMarks(chart, "x", C_X_TICKS, 9, true, INK, 1.5);
          tickMarks(chart, "x", C_X_MINOR, 5, true, INK, 1.5);
          tickMarks(chart, "y", C_Y_TICKS, 9, true, INK, 1.5);
          tickMarks(chart, "y", C_Y_MINOR, 5, true, INK, 1.5);
          const rows = [30, 57];
          const icons = [orangeL, oliveL];
          const fs = 21;
          for (let i = 0; i < 2; i++) {
            const y = rows[i];
            img(ctx, icons[i], 125, y);
            label(ctx, C_NAMES[i], 157, y, `${fs}px ${FONT}`, "#111");
            ctx.save();
            ctx.font = `${fs}px ${FONT}`;
            const wR = ctx.measureText("R").width;
            ctx.font = `13px ${FONT}`;
            const w2 = ctx.measureText("2").width;
            ctx.restore();
            label(ctx, "R", 278, y, `${fs}px ${FONT}`, "#111");
            label(ctx, "2", 278 + wR + 0.5, y - 7, `13px ${FONT}`, "#111");
            label(ctx, "=" + C_R2[i], 278 + wR + w2 + 1, y, `${fs}px ${FONT}`, "#111");
            label(ctx, C_EQ[i], 396, y, `italic ${fs + 0.5}px ${FONT}`, "#111");
          }
          label(ctx, "(c)", 672, 448, `bold 24px ${FONT}`, "#000", "right");
          vText(ctx, "Phase (rad)", 35, 242, `bold 24px ${FONT}`, "#000");
        },
      },
    ],
  };
}

function ChartBox(props: { left: number; top: number; width: number; height: number; build: () => any }) {
  const ref = useRef<HTMLCanvasElement | null>(null);
  useEffect(() => {
    const c = ref.current;
    if (!c) return;
    const chart = new Chart(c, props.build());
    return () => {
      chart.destroy();
    };
  }, []);
  return (
    <canvas
      ref={ref}
      width={props.width}
      height={props.height}
      style={{ position: "absolute", left: props.left, top: props.top, width: props.width, height: props.height }}
    />
  );
}

export default function App() {
  return (
    <div style={{ position: "absolute", left: 0, top: 0, width: 683, height: 1558, background: "#fff", overflow: "hidden" }}>
      <ChartBox left={0} top={0} width={683} height={505} build={buildA} />
      <ChartBox left={95} top={0} width={340} height={240} build={buildInsetA} />
      <ChartBox left={0} top={510} width={683} height={510} build={buildB} />
      <ChartBox left={95} top={515} width={345} height={230} build={buildInsetB} />
      <ChartBox left={0} top={1020} width={683} height={538} build={buildC} />
    </div>
  );
}
